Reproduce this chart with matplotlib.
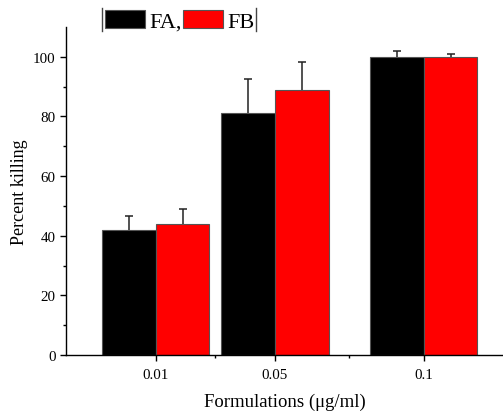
import matplotlib
matplotlib.use("Agg")
import matplotlib.pyplot as plt
from matplotlib.lines import Line2D
import numpy as np

# ---- data ----
concentrations = [0.01, 0.05, 0.1]
tick_labels = ["0.01", "0.05", "0.1"]
fa_values = [42.0, 81.0, 100.0]
fa_errors = [4.7, 11.4, 2.0]
fb_values = [44.0, 89.0, 100.0]
fb_errors = [5.0, 9.4, 1.0]
series_labels = ["FA,", "FB"]

plt.rcParams['font.family'] = ['Liberation Serif', 'DejaVu Serif']

fig = plt.figure(figsize=(5.03, 4.14), dpi=100)
ax = fig.add_axes([66/503, 58/414, 1 - 66/503, (356-28)/414])

w = 0.018
x = np.array(concentrations)
err_kw = dict(ecolor='#222222', elinewidth=1.1, capsize=2.8, capthick=1.1)
b1 = ax.bar(x - w/2, fa_values, width=w, color='black', edgecolor='#555555',
            linewidth=0.8, yerr=[np.zeros(3), fa_errors], error_kw=err_kw,
            label=series_labels[0], zorder=2)
b2 = ax.bar(x + w/2, fb_values, width=w, color='#ff0000', edgecolor='#555555',
            linewidth=0.8, yerr=[np.zeros(3), fb_errors], error_kw=err_kw,
            label=series_labels[1], zorder=2)
# hide the lower caps (one-sided error bars)
for b in (b1, b2):
    caps = b.errorbar.lines[1]
    if len(caps) > 0:
        caps[0].set_visible(False)

ax.set_xlim(-0.0202, 0.1266)
ax.set_ylim(0, 110)
ax.set_xticks(concentrations)
ax.set_xticklabels(tick_labels)
ax.set_xticks([0.03, 0.075], minor=True)
ax.set_yticks([0, 20, 40, 60, 80, 100])
ax.set_yticks([10, 30, 50, 70, 90], minor=True)

for s in ['top', 'right']:
    ax.spines[s].set_visible(False)
for s in ['left', 'bottom']:
    ax.spines[s].set_linewidth(1.0)

ax.tick_params(axis='both', which='major', direction='out', length=4.5, width=1.0,
               labelsize=10.8)
ax.tick_params(axis='x', which='major', pad=5)
ax.tick_params(axis='y', which='major', pad=3)
ax.tick_params(axis='both', which='minor', direction='out', length=2.5, width=1.0)

ax.set_xlabel("Formulations (μg/ml)", fontsize=13.5, labelpad=8)
ax.set_ylabel("Percent killing", fontsize=13, labelpad=3.5)

leg = fig.legend(handles=[b1, b2], labels=series_labels, loc='upper left',
                 bbox_to_anchor=(105/503, 1 - 11/414), ncol=2, frameon=False,
                 fontsize=16, handlelength=1.8, handleheight=0.86,
                 handletextpad=0.18, columnspacing=0.09, borderpad=0,
                 borderaxespad=0)

fig.canvas.draw()
bb = leg.get_window_extent().transformed(fig.transFigure.inverted())
y0, y1 = 1 - 32/414, 1 - 9/414
fig.add_artist(Line2D([bb.x0 - 3/503]*2, [y0, y1], color='#444444', lw=1.0,
                      transform=fig.transFigure))
fig.add_artist(Line2D([bb.x1 + 1.5/503]*2, [y0, y1], color='#444444', lw=1.0,
                      transform=fig.transFigure))

fig.savefig("out.png", dpi=100)
